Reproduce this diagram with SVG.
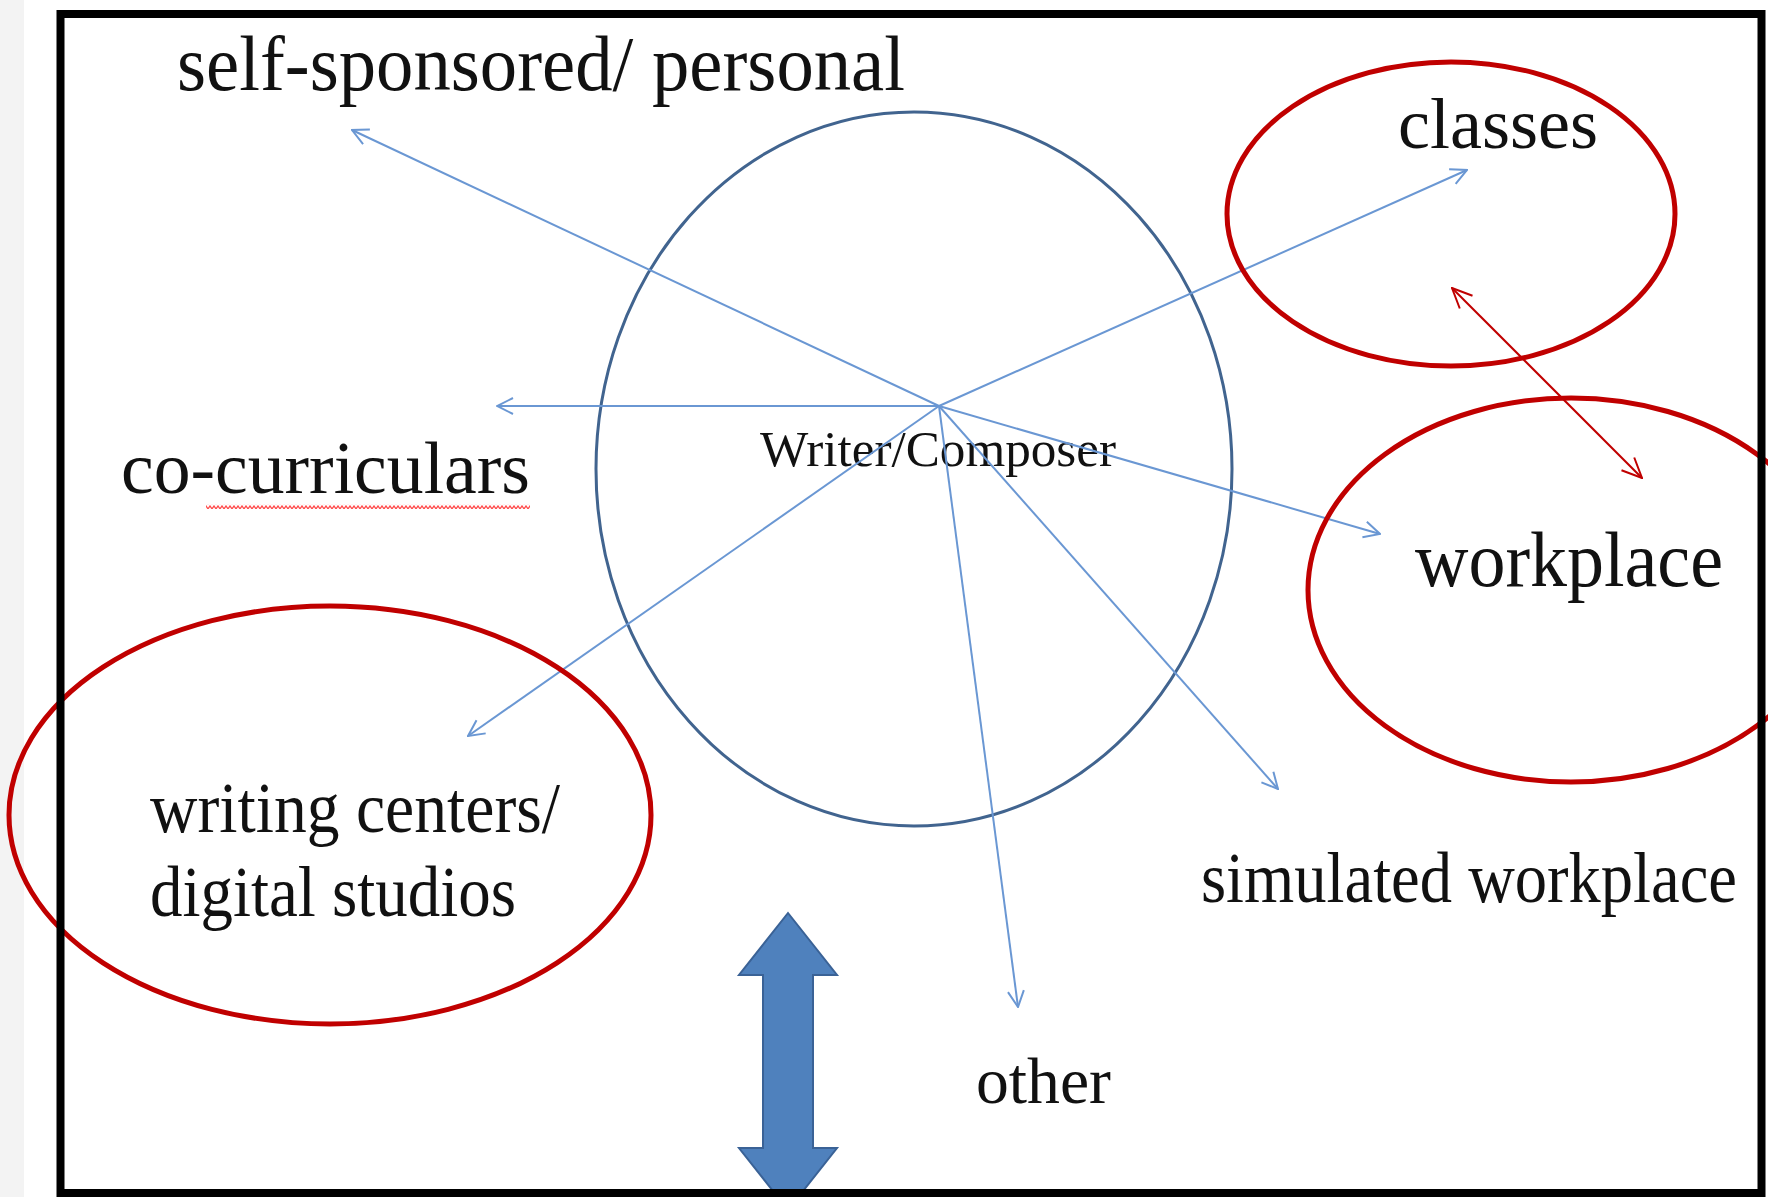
<svg xmlns="http://www.w3.org/2000/svg" width="1768" height="1197" viewBox="0 0 1768 1197">
<style>
.lbl{font-family:"Liberation Serif","DejaVu Serif",serif;fill:#111}
.conn{stroke:#6a97d3;stroke-width:2;fill:none;marker-end:url(#blueHead)}
.red{fill:none;stroke:#c00000;stroke-width:5}
</style>
<defs>
<marker id="blueHead" viewBox="0 0 20 20" refX="19" refY="10" markerWidth="20" markerHeight="20" markerUnits="userSpaceOnUse" orient="auto">
<path d="M3,2 L19,10 L3,18" fill="none" stroke="#6a97d3" stroke-width="2"/>
</marker>
<marker id="redHead" viewBox="0 0 24 24" refX="23" refY="12" markerWidth="24" markerHeight="24" markerUnits="userSpaceOnUse" orient="auto-start-reverse">
<path d="M3,3 L23,12 L3,21" fill="none" stroke="#c00000" stroke-width="2"/>
</marker>
<pattern id="squiggle" x="0" y="0" width="4" height="5" patternUnits="userSpaceOnUse">
<path d="M0,4 L2,1 L4,4" fill="none" stroke="#ff4a4a" stroke-width="1.3"/>
</pattern>
</defs>
<rect x="0" y="0" width="1768" height="1197" fill="#ffffff"/>
<rect x="0" y="0" width="24" height="1197" fill="#f3f3f3"/>
<g id="writer">
<ellipse cx="914" cy="469" rx="318" ry="357" fill="none" stroke="#41648f" stroke-width="3"/>
<text class="lbl" x="760" y="466" font-size="50" textLength="356" lengthAdjust="spacingAndGlyphs">Writer/Composer</text>
</g>
<g id="connectors">
<line class="conn" x1="939" y1="406" x2="352" y2="130"/>
<line class="conn" x1="939" y1="406" x2="1467" y2="170"/>
<line class="conn" x1="939" y1="406" x2="497" y2="406"/>
<line class="conn" x1="939" y1="406" x2="1380" y2="534"/>
<line class="conn" x1="939" y1="406" x2="468" y2="736"/>
<line class="conn" x1="939" y1="406" x2="1278" y2="789"/>
<line class="conn" x1="939" y1="406" x2="1018" y2="1007"/>
<line x1="1452" y1="288" x2="1642" y2="478" stroke="#c00000" stroke-width="2" marker-start="url(#redHead)" marker-end="url(#redHead)"/>
</g>
<g id="self-sponsored">
<text class="lbl" x="177" y="90" font-size="78" textLength="728" lengthAdjust="spacingAndGlyphs">self-sponsored/ personal</text>
</g>
<g id="classes">
<ellipse class="red" cx="1451" cy="214" rx="224" ry="152"/>
<text class="lbl" x="1398" y="148" font-size="72" textLength="200" lengthAdjust="spacingAndGlyphs">classes</text>
</g>
<g id="co-curriculars">
<text class="lbl" x="121" y="493" font-size="74" textLength="409" lengthAdjust="spacingAndGlyphs">co-curriculars</text>
<rect x="206" y="504" width="324" height="5" fill="url(#squiggle)"/>
</g>
<g id="workplace">
<ellipse class="red" cx="1571" cy="590" rx="263" ry="192"/>
<text class="lbl" x="1415" y="586" font-size="78" textLength="308" lengthAdjust="spacingAndGlyphs">workplace</text>
</g>
<g id="writing-centers">
<ellipse class="red" cx="330" cy="815" rx="321" ry="209"/>
<text class="lbl" x="150" y="832" font-size="72" textLength="410" lengthAdjust="spacingAndGlyphs">writing centers/</text>
<text class="lbl" x="150" y="916" font-size="72" textLength="366" lengthAdjust="spacingAndGlyphs">digital studios</text>
</g>
<g id="simulated-workplace">
<text class="lbl" x="1201" y="902" font-size="72" textLength="536" lengthAdjust="spacingAndGlyphs">simulated workplace</text>
</g>
<g id="other">
<text class="lbl" x="976" y="1103" font-size="66" textLength="135" lengthAdjust="spacingAndGlyphs">other</text>
</g>
<g id="double-arrow">
<path d="M788,913 L837,975 L813,975 L813,1148 L837,1148 L788,1210 L739,1148 L763,1148 L763,975 L739,975 Z" fill="#4f81bd" stroke="#3a6296" stroke-width="2"/>
</g>
<rect x="60.5" y="14" width="1701" height="1179" fill="none" stroke="#000" stroke-width="8"/>
</svg>
